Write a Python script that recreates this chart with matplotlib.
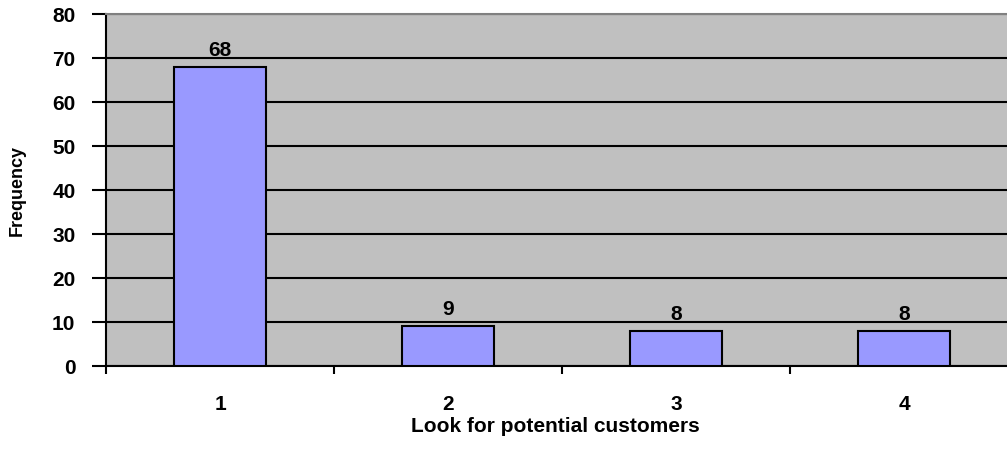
import matplotlib
matplotlib.use("Agg")
import matplotlib.pyplot as plt
from matplotlib.ticker import FixedLocator

categories = ["1", "2", "3", "4"]
frequency = [68, 9, 8, 8]
y_ticks = [0, 10, 20, 30, 40, 50, 60, 70, 80]

plt.rcParams["font.family"] = ["Liberation Sans", "DejaVu Sans"]
plt.rcParams["font.weight"] = "bold"

W, H = 1007, 451
fig = plt.figure(figsize=(W / 100, H / 100), dpi=100)
fig.patch.set_facecolor("white")

# plot area in pixel coordinates (runs slightly past the right edge)
left, right, top, bottom = 106, 1018, 14, 366
ax = fig.add_axes([left / W, (H - bottom) / H, (right - left) / W, (bottom - top) / H])
ax.set_facecolor("#C0C0C0")

x = list(range(1, len(categories) + 1))
ax.bar(x, frequency, width=0.4, color="#9999FF", edgecolor="black", linewidth=1.5, zorder=3)

for xi, v in zip(x, frequency):
    ax.annotate(str(v), (xi, v), xytext=(0, 8), textcoords="offset points",
                ha="center", va="baseline", fontsize=15, fontweight="bold", zorder=4)

ax.set_xlim(0.5, len(categories) + 0.5)
ax.set_ylim(0, 80)
ax.set_yticks(y_ticks)
ax.yaxis.grid(True, color="black", linewidth=1.5, zorder=1)
ax.set_axisbelow(True)

# tick marks on category boundaries, labels at the centres
ax.xaxis.set_major_locator(FixedLocator([i + 0.5 for i in range(len(categories) + 1)]))
ax.xaxis.set_major_formatter(plt.NullFormatter())
ax.xaxis.set_minor_locator(FixedLocator(x))
ax.set_xticklabels(categories, minor=True)
ax.tick_params(axis="x", which="major", direction="out", length=6, width=1.5, color="black")
ax.tick_params(axis="x", which="minor", length=0, pad=21, labelsize=15)
ax.tick_params(axis="y", direction="out", length=10, width=1.5, pad=12, labelsize=15)

for lbl in ax.get_xticklabels(minor=True) + ax.get_yticklabels():
    lbl.set_fontweight("bold")

ax.spines["left"].set_color("black")
ax.spines["left"].set_linewidth(1.5)
ax.spines["bottom"].set_color("black")
ax.spines["bottom"].set_linewidth(1.5)
ax.spines["top"].set_color("#808080")
ax.spines["top"].set_linewidth(1.5)
ax.spines["right"].set_visible(False)

fig.text(17 / W, 1 - 190 / H, "Frequency", rotation=90, ha="center", va="center",
         fontsize=13, fontweight="bold")
fig.text(555 / W, 1 - 432 / H, "Look for potential customers", ha="center", va="baseline",
         fontsize=15, fontweight="bold")

fig.savefig("out.png", dpi=100)
